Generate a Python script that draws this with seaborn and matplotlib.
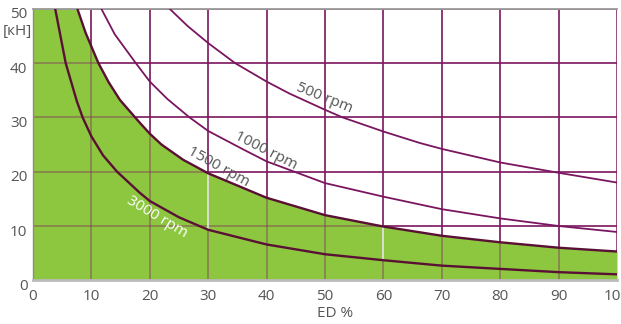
import matplotlib
matplotlib.use("Agg")
import matplotlib.pyplot as plt
import matplotlib.transforms as mtransforms
import pandas as pd
import seaborn as sns

# ---- data ----
ED_3000 = [3.8, 5.6, 7.5, 8.5, 10, 12, 14.4, 18.3, 20, 25, 30, 40, 50, 60, 70, 80, 90, 100]
F_3000 = [50, 40, 33.0, 30, 26.5, 23.0, 20, 16.1, 14.6, 11.6, 9.3, 6.6, 4.8, 3.7, 2.7, 2.1, 1.5, 1.1]

ED_1500 = [7.6, 9, 11.2, 13, 14.9, 18.3, 20, 22, 25.7, 30, 40, 50, 60, 70, 80, 90, 100]
F_1500 = [50, 45.6, 40, 36.4, 33.2, 29.0, 27.0, 25.0, 22.2, 19.7, 15.2, 12.0, 9.9, 8.2, 7.0, 6.0, 5.3]

ED_1000 = [11.7, 14, 17.6, 20, 23, 26.8, 30, 36, 40, 50, 60, 70, 80, 90, 100]
F_1000 = [50, 45.3, 40, 36.6, 33.4, 30, 27.5, 24.1, 21.9, 17.9, 15.4, 13.1, 11.4, 10.0, 8.9]

ED_500 = [23.4, 26.5, 30.1, 34.6, 40, 43.9, 50, 53, 60, 66.2, 70, 80, 90, 100]
F_500 = [50, 46.8, 43.6, 40, 36.6, 34.4, 31.4, 30, 27.4, 25.3, 24.2, 21.7, 19.8, 18.0]

X_TICKS = [0, 10, 20, 30, 40, 50, 60, 70, 80, 90, 100]
Y_TICKS = [0, 10, 20, 30, 40, 50]
CURVE_LABELS = ["500 rpm", "1000 rpm", "1500 rpm", "3000 rpm"]
Y_UNIT = "[кН]"
X_LABEL = "ED %"

# ---- style ----
sns.set_theme(style="white")
plt.rcParams["font.family"] = ["Open Sans", "DejaVu Sans"]

GREEN = "#8dc63f"
GRID = "#7d1a60"
DARK = "#5a1035"
PURPLE = "#7a1660"
TXT = "#555555"
FS = 11

fig = plt.figure(figsize=(6.21, 3.24), dpi=100)
ax = fig.add_axes([33 / 621, 1 - 280.3 / 324, 584 / 621, 271.5 / 324])

# grid under everything
ax.set_axisbelow(True)
ax.set_xticks(X_TICKS)
ax.set_yticks(Y_TICKS)
ax.grid(True, color=GRID, lw=1.1)

# green fill under the 1500 rpm curve (flat top at the y limit)
fill_x = [X_TICKS[0]] + ED_1500
fill_y = [Y_TICKS[-1]] + F_1500
ax.fill_between(fill_x, 0, fill_y, color=GREEN, lw=0, zorder=1)

# grid again, semi-transparent, over the fill
ax.vlines(X_TICKS[1:-1], Y_TICKS[0], Y_TICKS[-1], color=GRID, lw=1.1, alpha=0.45, zorder=1.5)
ax.hlines(Y_TICKS[1:-1], X_TICKS[0], X_TICKS[-1], color=GRID, lw=1.1, alpha=0.45, zorder=1.5)

# light seams in the fill at 30 and 60 (between the 3000 and 1500 curves)
for xs in (30, 60):
    lo = F_3000[ED_3000.index(xs)]
    hi = F_1500[ED_1500.index(xs)]
    ax.vlines([xs], lo, hi, color="white", lw=1.2, alpha=0.85, zorder=1.6)

# curves
curves = [
    (ED_500, F_500, PURPLE, 1.3),
    (ED_1000, F_1000, PURPLE, 1.3),
    (ED_1500, F_1500, DARK, 1.7),
    (ED_3000, F_3000, DARK, 1.7),
]
for xs, ys, col, lw in curves:
    df = pd.DataFrame({"ED": xs, "F": ys})
    sns.lineplot(data=df, x="ED", y="F", ax=ax, color=col, lw=lw,
                 sort=False, estimator=None, zorder=3)

# curve labels
label_pos = [(49.9, 33.5, -22, TXT), (39.9, 23.8, -27, TXT),
             (31.8, 20.8, -29, TXT), (21.2, 11.6, -31, "white")]
for text, (lx, ly, rot, c) in zip(CURVE_LABELS, label_pos):
    ax.text(lx, ly, text, rotation=rot, rotation_mode="anchor",
            ha="center", va="center", fontsize=FS, color=c, zorder=4)

ax.set_xlim(X_TICKS[0], X_TICKS[-1])
ax.set_ylim(Y_TICKS[0], Y_TICKS[-1])

ax.tick_params(axis="both", length=0, labelsize=FS, labelcolor=TXT)
ax.tick_params(axis="x", pad=6)
ax.tick_params(axis="y", pad=4)
offset = mtransforms.ScaledTranslation(0, -3 / 72, fig.dpi_scale_trans)
for lab in ax.get_yticklabels():
    lab.set_transform(lab.get_transform() + offset)

ax.set_xlabel(X_LABEL, fontsize=FS, color=TXT, labelpad=0)
ax.xaxis.set_label_coords(0.517, -0.095)
ax.set_ylabel("")

ax.text(-0.002, 0.918, Y_UNIT, transform=ax.transAxes, ha="right", va="center",
        fontsize=FS, color=TXT)

ax.spines["right"].set_visible(False)
ax.spines["top"].set_color("#9a9a9a")
ax.spines["top"].set_linewidth(1.3)
ax.spines["bottom"].set_color("#bbbbbb")
ax.spines["bottom"].set_linewidth(2)
ax.spines["left"].set_color("#8a8a8a")
ax.spines["left"].set_linewidth(1)

fig.savefig("out.png", dpi=100)
